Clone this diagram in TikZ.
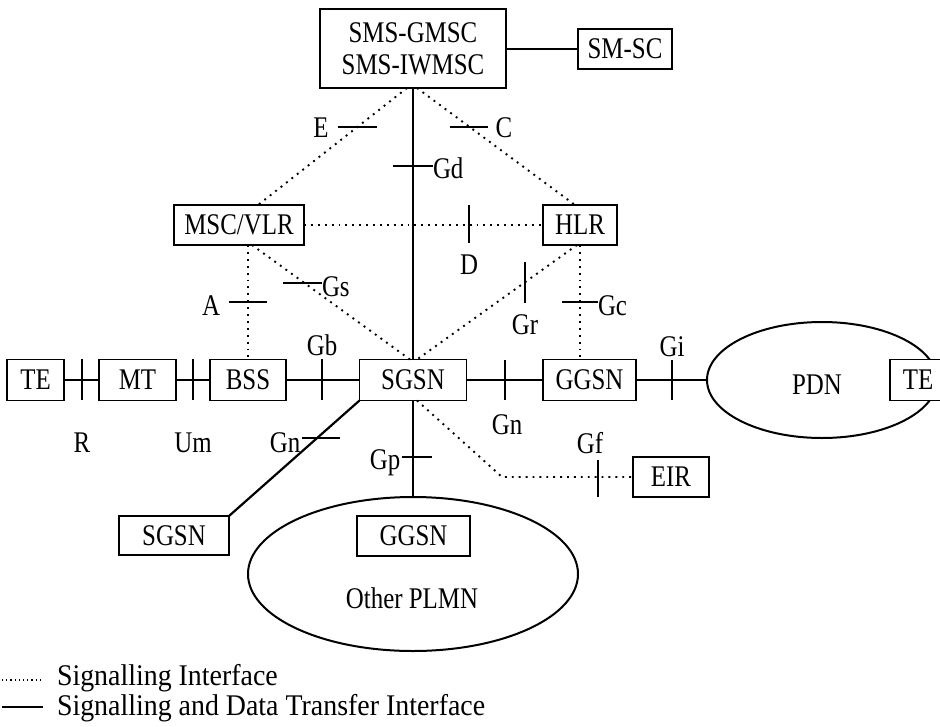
\documentclass[tikz,border=0pt]{standalone}
\usepackage{fontspec}
\setmainfont{Liberation Serif}[FakeStretch=0.83]
\newfontfamily\legendfont{Liberation Serif}[FakeStretch=0.93]
\usetikzlibrary{calc,shapes.geometric}
\begin{document}
\begin{tikzpicture}[x=1pt,y=-1pt,
  font=\fontsize{30}{32}\selectfont,
  every node/.style={inner sep=0pt, outer sep=0pt},
  netbox/.style={draw, line width=1.8pt, fill=white, minimum height=41pt},
  cloud/.style={draw, ellipse, line width=2pt},
  sigline/.style={line width=1.9pt, dash pattern=on 1.9pt off 5pt},
  dataline/.style={line width=1.8pt},
  tickmark/.style={line width=1.5pt},
  lbl/.style={}]
\useasboundingbox (0,0) rectangle (940,726);

% network elements
\node[netbox, minimum width=186pt, minimum height=79pt, align=center] (smsc) at (413,48.5) {SMS-GMSC\\SMS-IWMSC};
\node[netbox, minimum width=94pt, minimum height=40pt] (smsc2) at (625,49) {SM-SC};
\node[netbox, minimum width=130pt, minimum height=40pt] (msc) at (239,225) {MSC/VLR};
\node[netbox, minimum width=74pt, minimum height=40pt] (hlr) at (580,225) {HLR};

\node[netbox, minimum width=57pt] (te1) at (35.5,380) {TE};
\node[netbox, minimum width=77pt] (mt) at (137.5,380) {MT};
\node[netbox, minimum width=76pt] (bss) at (248,380) {BSS};
\node[netbox, minimum width=107pt] (sgsn) at (413,380) {SGSN};
\node[netbox, minimum width=93pt] (ggsn) at (589.5,380) {GGSN};
\node[cloud, minimum width=230pt, minimum height=116pt] (pdn) at (822,380) {};
\node (pdntxt) at (817,385) {PDN};
\node[netbox, minimum width=56pt] (te2) at (918,380) {TE};

\node[netbox, minimum width=76pt, minimum height=40pt] (eir) at (671,477) {EIR};
\node[netbox, minimum width=110pt, minimum height=39pt] (sgsn2) at (174,535.5) {SGSN};
\node[cloud, minimum width=330pt, minimum height=154pt] (plmn) at (413,574) {};
\node[netbox, minimum width=113pt, minimum height=40pt] (ggsn2) at (413.5,536) {GGSN};
\node (plmntxt) at (412,598) {Other PLMN};

% signalling and data transfer interfaces
\draw[dataline] (smsc.east |- smsc2.west) -- (smsc2.west);
\draw[line width=1.4pt] (smsc.south) -- (smsc.south |- sgsn.north);
\draw[dataline] (te1.east) -- (mt.west);
\draw[dataline] (mt.east) -- (bss.west);
\draw[dataline] (bss.east) -- (sgsn.west);
\draw[dataline] (sgsn.east) -- (ggsn.west);
\draw[dataline] (ggsn.east) -- (pdn.west);
\draw[line width=2.2pt] (sgsn.south west) -- (sgsn2.north east);
\draw[line width=1.4pt] (sgsn.south) -- (plmn.north);

% signalling interfaces
\draw[sigline] ([xshift=-6pt]smsc.south) -- ([xshift=19pt]msc.north);
\draw[sigline] ([xshift=4pt]smsc.south) -- ([xshift=-5pt]hlr.north);
\draw[sigline] (msc.east) -- (hlr.west);
\draw[sigline] (bss.north |- msc.south) -- (bss.north);
\draw[sigline] ([xshift=13pt]msc.south) -- ([xshift=-3pt]sgsn.north);
\draw[sigline] ([xshift=-3pt]hlr.south) -- ([xshift=4pt]sgsn.north);
\draw[sigline] (hlr.south) -- (hlr.south |- ggsn.north);
\coordinate (gfbend) at (502,477);
\draw[sigline] ([xshift=4pt]sgsn.south) -- (gfbend) -- (eir.west);

% reference point marks and names
\draw[tickmark] (338,127) -- (377,127);  \node (lE) at (321,128) {E};
\draw[tickmark] (450,127) -- (488,127);  \node (lC) at (504,128) {C};
\draw[tickmark] (393,166) -- (433,166);  \node[anchor=west] (lGd) at (433,168) {Gd};
\draw[tickmark] (469,205) -- (469,243);  \node (lD) at (469,265) {D};
\draw[tickmark] (283,283) -- (322,283);  \node[anchor=west] (lGs) at (322,287) {Gs};
\draw[tickmark] (229,302) -- (267,302);  \node (lA) at (211,306) {A};
\draw[tickmark] (525,262) -- (525,303);  \node (lGr) at (525,325) {Gr};
\draw[tickmark] (562,302) -- (598,302);  \node[anchor=west] (lGc) at (598,306) {Gc};
\draw[tickmark] (82,359) -- (82,400);    \node (lR) at (82,443) {R};
\draw[tickmark] (193,359) -- (193,400);  \node (lUm) at (193,443) {Um};
\draw[tickmark] (322,359) -- (322,400);  \node (lGb) at (322,345) {Gb};
\draw[tickmark] (505,360) -- (505,400);  \node (lGn) at (507,425) {Gn};
\draw[tickmark] (672,360) -- (672,400);  \node (lGi) at (672,347) {Gi};
\draw[tickmark] (302,438) -- (340,438);  \node (lGn2) at (285,443) {Gn};
\draw[tickmark] (402,457) -- (432,457);  \node (lGp) at (385,463) {Gp};
\draw[tickmark] (598,460) -- (598,497);  \node (lGf) at (590,443) {Gf};

% legend
\coordinate (ka) at (2,680); \coordinate (kb) at (43,680);
\coordinate (kc) at (2,707); \coordinate (kd) at (43,707);
\draw[line width=1.2pt, dash pattern=on 1.2pt off 3pt] (ka) -- (kb);
\draw[line width=1.8pt] (kc) -- (kd);
\node[anchor=west, font=\legendfont\fontsize{30}{32}\selectfont] (leg1) at (57,678) {Signalling Interface};
\node[anchor=west, font=\legendfont\fontsize{30}{32}\selectfont] (leg2) at (57,708) {Signalling and Data Transfer Interface};
\end{tikzpicture}
\end{document}
